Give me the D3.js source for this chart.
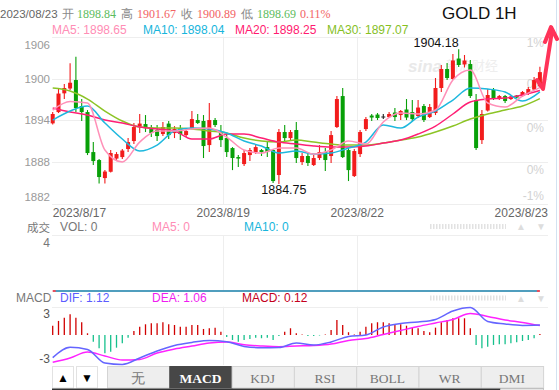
<!DOCTYPE html>
<html>
<head>
<meta charset="utf-8">
<script src="https://cdn.jsdelivr.net/npm/d3@7/dist/d3.min.js"></script>
<style>
  body { margin: 0; background: #fff; }
  svg { display: block; font-family: "Liberation Sans", Arial, sans-serif; }
</style>
</head>
<body>
<svg id="chart" width="559" height="390"></svg>
<script>
// GOLD 1H candles (oldest first)
const open = [1893.50, 1895.13, 1897.83, 1898.53, 1899.75, 1896.00, 1895.13, 1889.36, 1888.21, 1885.61,
  1886.52, 1888.42, 1888.64, 1889.80, 1890.95, 1893.04, 1893.40, 1892.68, 1892.54, 1891.96,
  1893.47, 1892.10, 1892.82, 1891.81, 1892.82, 1893.98, 1893.84, 1890.37, 1893.98, 1892.39,
  1891.38, 1889.94, 1888.64, 1887.63, 1888.93, 1889.36, 1889.65, 1890.08, 1889.65, 1886.05,
  1892.25, 1891.38, 1892.54, 1887.92, 1888.79, 1887.49, 1888.50, 1889.36, 1888.79, 1892.97,
  1897.44, 1889.65, 1885.90, 1889.07, 1892.68, 1894.63, 1894.77, 1894.49, 1894.41, 1895.06,
  1894.70, 1895.50, 1895.13, 1894.56, 1896.00, 1894.41, 1894.99, 1898.60, 1901.34, 1899.90,
  1902.85, 1901.99, 1902.06, 1896.87, 1891.09, 1895.35, 1898.31, 1897.01, 1897.44, 1897.01,
  1897.51, 1897.44, 1897.80, 1898.38, 1898.84];
const high = [1895.13, 1898.60, 1899.18, 1902.16, 1903.11, 1897.01, 1895.42, 1890.80, 1888.35, 1886.76,
  1889.65, 1889.36, 1889.80, 1891.38, 1893.55, 1894.85, 1894.70, 1893.26, 1893.26, 1893.69,
  1893.84, 1893.11, 1893.26, 1892.68, 1895.28, 1894.85, 1894.70, 1896.43, 1894.27, 1893.26,
  1892.10, 1890.08, 1888.93, 1889.65, 1889.94, 1890.37, 1889.80, 1890.80, 1889.80, 1892.68,
  1893.26, 1892.54, 1893.69, 1889.22, 1889.22, 1888.93, 1890.37, 1889.94, 1892.39, 1897.44,
  1898.60, 1889.94, 1889.80, 1892.54, 1894.41, 1894.85, 1894.99, 1894.85, 1895.13, 1895.71,
  1895.42, 1897.01, 1896.87, 1896.87, 1896.29, 1896.29, 1900.04, 1901.92, 1902.21, 1903.50,
  1904.18, 1903.36, 1902.64, 1897.73, 1895.42, 1898.45, 1898.60, 1897.59, 1897.59, 1897.51,
  1897.59, 1898.16, 1898.74, 1900.18, 1901.67];
const low = [1893.33, 1894.99, 1897.01, 1898.31, 1895.13, 1893.84, 1888.93, 1887.49, 1884.82, 1884.82,
  1886.40, 1888.06, 1888.35, 1889.36, 1890.52, 1892.10, 1892.25, 1891.53, 1890.95, 1891.67,
  1891.24, 1891.38, 1891.09, 1891.53, 1892.61, 1893.40, 1888.50, 1889.36, 1892.97, 1890.08,
  1888.64, 1886.76, 1887.19, 1887.34, 1888.06, 1889.07, 1888.79, 1888.64, 1884.89, 1884.75,
  1890.80, 1891.09, 1887.78, 1887.49, 1887.34, 1887.34, 1888.21, 1886.62, 1887.78, 1892.82,
  1888.50, 1885.18, 1885.76, 1888.64, 1892.39, 1893.84, 1893.98, 1894.12, 1894.27, 1893.84,
  1893.98, 1893.98, 1893.84, 1894.27, 1893.69, 1894.27, 1894.70, 1898.02, 1899.75, 1899.75,
  1901.63, 1901.56, 1897.15, 1889.65, 1890.52, 1895.20, 1896.87, 1896.87, 1896.43, 1896.87,
  1897.15, 1897.30, 1897.59, 1898.31, 1898.69];
const close = [1894.85, 1897.80, 1898.60, 1899.36, 1895.71, 1895.13, 1889.22, 1888.06, 1885.76, 1886.55,
  1889.22, 1889.07, 1889.58, 1890.80, 1892.97, 1893.47, 1892.82, 1892.10, 1891.67, 1892.97,
  1891.81, 1892.68, 1891.96, 1892.39, 1894.12, 1893.55, 1890.23, 1893.98, 1893.26, 1891.09,
  1889.36, 1888.50, 1888.42, 1889.22, 1889.65, 1890.08, 1889.36, 1889.36, 1885.18, 1892.25,
  1891.38, 1892.25, 1888.50, 1888.79, 1887.78, 1888.50, 1889.36, 1888.21, 1891.81, 1897.01,
  1888.64, 1886.76, 1889.51, 1892.25, 1894.12, 1894.34, 1894.27, 1894.49, 1894.85, 1894.41,
  1895.28, 1894.34, 1894.12, 1895.78, 1893.98, 1895.86, 1898.60, 1901.34, 1900.04, 1902.57,
  1901.92, 1902.57, 1897.44, 1889.94, 1894.85, 1897.59, 1897.11, 1897.44, 1896.72, 1897.37,
  1897.22, 1898.02, 1898.45, 1899.75, 1900.89];

// moving averages, read every third candle
const maIndex = [0, 3, 6, 9, 12, 15, 18, 21, 24, 27, 30, 33, 36, 39, 42, 45, 48, 51, 54, 57, 60, 63, 66, 69, 72, 75, 78, 81, 84];
const ma5 = [1895.42, 1896.65, 1896.43, 1889.65, 1887.92, 1890.80, 1892.39, 1892.39, 1892.68, 1892.82,
  1891.53, 1889.65, 1889.22, 1889.94, 1889.94, 1889.07, 1889.65, 1890.95, 1890.52, 1893.69,
  1894.99, 1894.85, 1895.42, 1899.75, 1901.19, 1896.43, 1895.86, 1897.44, 1898.65];
const ma10 = [1893.98, 1895.28, 1896.00, 1893.55, 1891.24, 1889.51, 1890.37, 1892.39, 1892.82, 1892.68,
  1892.10, 1890.95, 1890.23, 1889.22, 1889.51, 1889.07, 1889.22, 1889.94, 1890.80, 1893.26,
  1892.82, 1894.41, 1895.28, 1896.87, 1898.60, 1898.45, 1898.02, 1896.72, 1898.04];
const ma20 = [1895.71, 1895.13, 1894.70, 1893.98, 1893.55, 1892.97, 1892.68, 1892.39, 1891.24, 1891.24,
  1891.96, 1891.96, 1891.38, 1890.80, 1890.52, 1890.23, 1890.08, 1890.08, 1890.23, 1890.66,
  1891.09, 1891.96, 1893.11, 1894.85, 1896.58, 1897.01, 1897.15, 1897.59, 1898.25];
const ma30 = [1898.60, 1898.17, 1897.01, 1895.28, 1893.84, 1892.97, 1892.82, 1892.82, 1892.68, 1892.39,
  1892.10, 1891.38, 1890.95, 1890.80, 1891.09, 1890.80, 1890.52, 1890.37, 1890.37, 1890.66,
  1891.09, 1891.53, 1892.25, 1893.11, 1894.12, 1894.85, 1895.42, 1896.00, 1897.07];

// MACD panel
const dif = [-2.57, -1.40, -1.64, -3.17, -3.34, -2.60, -1.81, -1.19, -0.85, -0.62,
  -0.76, -1.30, -1.44, -1.42, -0.91, -1.13, -0.79, -0.17, 0.00, 0.91,
  1.30, 1.47, 1.76, 2.72, 3.11, 1.53, 1.25, 1.08, 1.12];
const dea = [-3.09, -2.60, -1.93, -2.38, -2.83, -2.77, -2.04, -1.59, -1.25, -0.91,
  -0.79, -1.10, -1.25, -1.33, -1.25, -1.19, -1.02, -0.62, -0.40, 0.06,
  0.51, 0.96, 1.36, 1.76, 2.43, 2.10, 1.70, 1.42, 1.06];
const macdBar = [1.05, 1.59, 1.96, 2.34, 1.96, 1.44, 0.19, -0.76, -1.51, -2.07,
  -1.89, -1.44, -0.94, -0.31, 0.45, 0.94, 1.21, 1.33, 1.33, 1.44,
  1.21, 1.13, 0.94, 0.94, 1.13, 1.13, 0.68, 0.76, 0.83, 0.37,
  -0.23, -0.57, -0.76, -0.57, -0.45, -0.31, -0.37, -0.31, -0.57, -0.11,
  0.37, 0.76, 0.19, 0.06, -0.11, -0.11, -0.06, 0.06, 0.57, 1.70,
  1.13, 0.31, 0.06, 0.37, 0.94, 1.33, 1.44, 1.44, 1.33, 1.21,
  1.21, 1.05, 0.83, 0.76, 0.45, 0.31, 0.83, 1.44, 1.70, 1.89,
  1.89, 1.89, 0.76, -1.13, -1.51, -1.33, -1.13, -1.05, -1.05, -0.94,
  -0.83, -0.68, -0.57, -0.37, 0.12];

// axis labels
const priceTicks = [1906.0, 1899.97, 1893.94, 1887.90, 1881.87];
const priceLabels = ['1906', '1900', '1894', '1888', '1882'];
const pctLabels = ['1%', '0%', '0%', '0%', '-1%'];
const dateTicks = [4.6, 29.4, 52.5, 84];
const dateLabels = ['2023/8/17', '2023/8/19', '2023/8/22', '2023/8/23'];
const macdTicks = [3.2, -3.4];
const macdLabels = ['3', '-3'];
const volLabel = '4';
const tabs = ['无', 'MACD', 'KDJ', 'RSI', 'BOLL', 'WR', 'DMI'];
const activeTab = 'MACD';
const headerDate = '2023/08/23';
const headerChange = '0.11%';

const UP = '#f21c1c', DOWN = '#08a008';
const L = 52, R = 548;

const svg = d3.select('#chart');
const x = d3.scaleLinear().domain([0, 84]).range([52.7, 539.9]);
const y = d3.scaleLinear().domain([1881.87, 1906.0]).range([204, 36.7]);
const ym = d3.scaleLinear().domain([-3.4, 3.2]).range([365, 306.7]);
const crisp = v => Math.round(v) + 0.5;

function label(g, tx, ty, s, o) {
  o = o || {};
  return g.append('text')
    .attr('x', tx).attr('y', ty)
    .attr('font-size', o.size || 12)
    .attr('fill', o.fill || '#666')
    .attr('text-anchor', o.anchor || 'start')
    .attr('dominant-baseline', 'central')
    .attr('font-family', o.family || null)
    .attr('font-weight', o.weight || null)
    .text(s);
}

// ---- grid ----
const grid = svg.append('g').attr('stroke', '#eeeeee').attr('stroke-width', 1);
priceTicks.forEach(v => {
  grid.append('line').attr('x1', L).attr('x2', R).attr('y1', crisp(y(v))).attr('y2', crisp(y(v)));
});
[235, 306.7].forEach(v => {
  grid.append('line').attr('x1', L).attr('x2', R).attr('y1', crisp(v)).attr('y2', crisp(v));
});
dateTicks.slice(1, 3).forEach(d => {
  [[36.7, 204], [235, 291], [306.7, 365]].forEach(([a, b]) => {
    grid.append('line').attr('x1', crisp(x(d))).attr('x2', crisp(x(d))).attr('y1', a).attr('y2', b);
  });
});

// right edge
svg.append('line').attr('x1', 556.5).attr('x2', 556.5).attr('y1', 0).attr('y2', 390)
  .attr('stroke', '#d3e2f1');

// ---- watermark ----
const wm = svg.append('g');
label(wm, 408, 66, 'sina', { size: 17, fill: '#e9e9e9', weight: 'bold' }).attr('font-style', 'italic');
label(wm, 446, 64, '新浪财经', { size: 13, fill: '#eeeeee', family: '"Noto Sans CJK SC"' });

// ---- axis labels ----
const axes = svg.append('g');
const leftOff = [8, 0.5, 0, 0, -7];
const rightOff = [6.5, 5, 8, 8, -8.5];
priceTicks.forEach((v, i) => {
  label(axes, 50, y(v) + leftOff[i], priceLabels[i], { anchor: 'end', fill: '#9a9a9a', size: 11.5 });
  label(axes, 544, y(v) + rightOff[i], pctLabels[i], { anchor: 'end', fill: '#d2d2d2', size: 12 });
});
dateTicks.forEach((d, i) => {
  const last = i === dateTicks.length - 1;
  label(axes, last ? R : x(d), 213, dateLabels[i], { anchor: last ? 'end' : 'middle', fill: '#666' });
});

// ---- candles ----
const cg = svg.append('g');
open.forEach((o, i) => {
  const c = close[i];
  const col = c === o ? '#222' : (c > o ? UP : DOWN);
  const cx = x(i);
  cg.append('line')
    .attr('x1', cx).attr('x2', cx)
    .attr('y1', y(high[i])).attr('y2', y(low[i]))
    .attr('stroke', col).attr('stroke-width', 1.1);
  const top = y(Math.max(o, c));
  const h = Math.max(1, y(Math.min(o, c)) - top);
  cg.append('rect')
    .attr('x', cx - 2).attr('width', 4)
    .attr('y', top).attr('height', h)
    .attr('fill', col);
});

// ---- moving averages ----
const maLine = d3.line().x(d => x(d[0])).y(d => y(d[1])).curve(d3.curveMonotoneX);
[[ma30, '#8cc425'], [ma20, '#ff1f74'], [ma10, '#1eb8de'], [ma5, '#ff90b8']].forEach(([arr, col]) => {
  svg.append('path')
    .datum(maIndex.map((k, j) => [k, arr[j]]))
    .attr('d', maLine)
    .attr('fill', 'none')
    .attr('stroke', col)
    .attr('stroke-width', 1.5);
});

// max / min marks
const hi = d3.maxIndex(high), lo = d3.minIndex(low);
label(svg, x(hi), 43, high[hi].toFixed(2), { anchor: 'end', fill: '#111', size: 12.5 });
label(svg, x(lo) + 5, 189.5, low[lo].toFixed(2), { anchor: 'middle', fill: '#111', size: 12.5 });

// ---- header ----
const hd = svg.append('g');
const last = open.length - 1;
const serif = '"Liberation Serif", "Times New Roman", serif';
label(hd, 0, 14, headerDate, { size: 11.5, fill: '#666' });
label(hd, 62, 14, '开', { size: 11.5, fill: '#888' });
label(hd, 77, 14, open[last].toFixed(2), { size: 12, fill: '#5cbc5c', family: serif });
label(hd, 121, 14, '高', { size: 11.5, fill: '#888' });
label(hd, 137, 14, high[last].toFixed(2), { size: 12, fill: '#f26363', family: serif });
label(hd, 181, 14, '收', { size: 11.5, fill: '#888' });
label(hd, 197, 14, close[last].toFixed(2), { size: 12, fill: '#f26363', family: serif });
label(hd, 241, 14, '低', { size: 11.5, fill: '#888' });
label(hd, 257, 14, low[last].toFixed(2), { size: 12, fill: '#5cbc5c', family: serif });
label(hd, 300, 14, headerChange, { size: 12, fill: '#f26363', family: serif });

label(hd, 52, 30, 'MA5: ' + ma5[ma5.length - 1].toFixed(2), { fill: '#ff8db5' });
label(hd, 143, 30, 'MA10: ' + ma10[ma10.length - 1].toFixed(2), { fill: '#17b5dc' });
label(hd, 235, 30, 'MA20: ' + ma20[ma20.length - 1].toFixed(2), { fill: '#ff1a70' });
label(hd, 327, 30, 'MA30: ' + ma30[ma30.length - 1].toFixed(2), { fill: '#86c01f' });
label(hd, 442, 13.5, 'GOLD 1H', { size: 17, fill: '#111' });

// ---- volume panel ----
const vg = svg.append('g');
label(vg, 27, 226.5, '成交', { fill: '#777', family: '"Noto Sans CJK SC"', size: 11.5 });
label(vg, 60, 226.5, 'VOL: 0', { fill: '#777' });
label(vg, 152, 226.5, 'MA5: 0', { fill: '#ff8db5' });
label(vg, 244, 226.5, 'MA10: 0', { fill: '#17b5dc' });
label(vg, 50, 243, volLabel, { anchor: 'end', fill: '#777' });
vg.append('line').attr('x1', x(0)).attr('x2', x(84)).attr('y1', 291).attr('y2', 291)
  .attr('stroke', '#e0142a').attr('stroke-width', 1.5);
vg.append('line').attr('x1', x(0) + 3).attr('x2', x(84) - 3).attr('y1', 291).attr('y2', 291)
  .attr('stroke', '#1eb8de').attr('stroke-width', 1.5);

// small controls on the panel title rows
[226.5, 298].forEach(ty => {
  svg.append('line').attr('x1', 430).attr('x2', 506).attr('y1', ty).attr('y2', ty)
    .attr('stroke', '#e2e2e2').attr('stroke-width', 5).attr('stroke-dasharray', '1.5 1.5');
  label(svg, 521, ty, '▲', { anchor: 'middle', fill: '#dddddd', size: 10 });
  label(svg, 541, ty, '▼', { anchor: 'middle', fill: '#dddddd', size: 10 });
});

// ---- MACD panel ----
const mg = svg.append('g');
label(mg, 16, 298, 'MACD', { fill: '#777' });
label(mg, 60, 298, 'DIF: ' + dif[dif.length - 1].toFixed(2), { fill: '#5c5cff' });
label(mg, 152, 298, 'DEA: ' + dea[dea.length - 1].toFixed(2), { fill: '#f01cf0' });
label(mg, 242, 298, 'MACD: ' + macdBar[macdBar.length - 1].toFixed(2), { fill: '#c4001c' });
label(mg, 50, ym(macdTicks[0]) + 7.3, macdLabels[0], { anchor: 'end', fill: '#555' });
label(mg, 50, ym(macdTicks[1]) - 6, macdLabels[1], { anchor: 'end', fill: '#555' });

macdBar.forEach((v, i) => {
  mg.append('line')
    .attr('x1', x(i)).attr('x2', x(i))
    .attr('y1', ym(0)).attr('y2', ym(v))
    .attr('stroke', v >= 0 ? '#d10000' : '#16c08c')
    .attr('stroke-width', 1.3);
});
const mLine = d3.line().x(d => x(d[0])).y(d => ym(d[1])).curve(d3.curveMonotoneX);
[[dea, '#ff22ff'], [dif, '#6565ff']].forEach(([arr, col]) => {
  mg.append('path')
    .datum(maIndex.map((k, j) => [k, arr[j]]))
    .attr('d', mLine)
    .attr('fill', 'none')
    .attr('stroke', col)
    .attr('stroke-width', 1.5);
});

// ---- tab bar ----
const tb = svg.append('g');
[['▲', 52], ['▼', 76]].forEach(([s, bx]) => {
  tb.append('rect').attr('x', bx + 0.5).attr('y', 366.5).attr('width', 21).attr('height', 21.5)
    .attr('fill', '#fff').attr('stroke', '#e2e2e2');
  label(tb, bx + 11, 377.5, s, { anchor: 'middle', fill: '#000', size: 12 });
});
const tabW = 62.3;
tabs.forEach((t, i) => {
  const tx = 107 + i * tabW;
  const on = t === activeTab;
  tb.append('rect').attr('x', tx + 0.5).attr('y', 366.5).attr('width', tabW).attr('height', 21.5)
    .attr('fill', on ? '#474747' : '#eeeeee').attr('stroke', on ? '#474747' : '#d4d4d4');
  label(tb, tx + tabW / 2, 378, t, {
    anchor: 'middle', fill: on ? '#fff' : '#777', size: 13.5,
    family: serif, weight: on ? 'bold' : null
  });
});
tb.append('rect').attr('x', 52).attr('y', 388.5).attr('width', 448).attr('height', 2).attr('fill', '#333');
tb.append('rect').attr('x', 500.5).attr('y', 388.5).attr('width', 43).attr('height', 2)
  .attr('fill', '#e6e6e6').attr('stroke', '#999').attr('stroke-width', 0.5);

// ---- hand-drawn arrow ----
const ar = svg.append('g').attr('fill', 'none').attr('stroke', '#ff3358')
  .attr('stroke-width', 4).attr('stroke-linecap', 'round').attr('stroke-linejoin', 'round');
ar.append('path').attr('d', 'M537,80 L543,89 L552,31');
ar.append('path').attr('d', 'M545,42 L551,27 L557,39');
</script>
</body>
</html>
